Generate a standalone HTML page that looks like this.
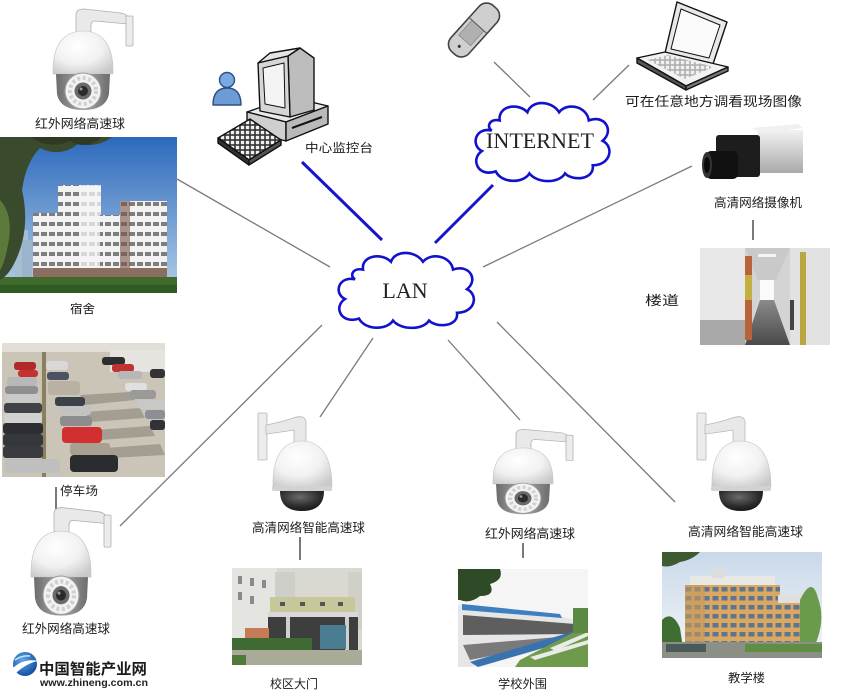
<!DOCTYPE html>
<html><head><meta charset="utf-8"><style>
html,body{margin:0;padding:0;background:#fff;}
svg{display:block;}
.cn{font-family:"Liberation Sans","Noto Sans CJK SC","WenQuanYi Zen Hei",sans-serif;fill:#1c1c1c;}
.sf{font-family:"Liberation Serif",serif;fill:#222;}
.lg{font-family:"Liberation Sans","Noto Sans CJK SC",sans-serif;}
</style></head><body>
<svg width="845" height="699" viewBox="0 0 845 699" xmlns="http://www.w3.org/2000/svg">
<defs>
  <radialGradient id="domeG" cx="0.42" cy="0.35" r="0.75">
    <stop offset="0" stop-color="#ffffff"/><stop offset="0.55" stop-color="#f1f1f1"/><stop offset="1" stop-color="#c9c9c9"/>
  </radialGradient>
  <linearGradient id="housG" x1="0" y1="0" x2="1" y2="0">
    <stop offset="0" stop-color="#6c6c6c"/><stop offset="0.5" stop-color="#a9a9a9"/><stop offset="1" stop-color="#6c6c6c"/>
  </linearGradient>
  <radialGradient id="bubG" cx="0.45" cy="0.3" r="0.8">
    <stop offset="0" stop-color="#6a6a6a"/><stop offset="0.6" stop-color="#2a2a2a"/><stop offset="1" stop-color="#111"/>
  </radialGradient>
  <linearGradient id="sky1" x1="0" y1="0" x2="0" y2="1">
    <stop offset="0" stop-color="#2c69bd"/><stop offset="1" stop-color="#b4cfe6"/>
  </linearGradient>
  <linearGradient id="sky2" x1="0" y1="0" x2="0" y2="1">
    <stop offset="0" stop-color="#c9d9ea"/><stop offset="1" stop-color="#f3f5f7"/>
  </linearGradient>
  <linearGradient id="silv" x1="0" y1="0" x2="0" y2="1">
    <stop offset="0" stop-color="#f2f2f2"/><stop offset="1" stop-color="#a9a9a9"/>
  </linearGradient>
  <linearGradient id="floorG" x1="0" y1="0" x2="0" y2="1">
    <stop offset="0" stop-color="#8a8a8a"/><stop offset="1" stop-color="#4a4a4a"/>
  </linearGradient>
  <radialGradient id="globeG" cx="0.4" cy="0.35" r="0.7">
    <stop offset="0" stop-color="#5fa8ea"/><stop offset="1" stop-color="#114a9a"/>
  </radialGradient>
  <pattern id="winP" width="8" height="10" patternUnits="userSpaceOnUse">
    <rect width="8" height="10" fill="#f2f2f2"/><rect x="1" y="2" width="6" height="4" fill="#7d7d7d"/>
  </pattern>
  <pattern id="winQ" width="9" height="9" patternUnits="userSpaceOnUse">
    <rect width="9" height="9" fill="#dba862"/><rect x="1.5" y="2" width="6" height="4.5" fill="#5d7590"/>
  </pattern>
  <pattern id="kbd" width="5" height="5" patternUnits="userSpaceOnUse">
    <rect width="5" height="5" fill="#333"/><rect x="0.8" y="0.8" width="3.4" height="3.4" fill="#f0f0f0"/>
  </pattern>

  <g id="ir">
    <path d="M-7,2 L-7,-15 Q-7,-21 1,-21 L38,-17 Q44,-16 45,-12 L45,-6 L12,-9 Q8,-9 8,-4 L8,2 Z" fill="#e9e9e9" stroke="#b0b0b0" stroke-width="0.8"/>
    <rect x="43" y="-14" width="7" height="30" rx="1" fill="#ececec" stroke="#b0b0b0" stroke-width="0.8"/>
    <path d="M-30,44 C-31,12 -17,1 0,1 C17,1 31,12 30,44 Z" fill="url(#domeG)" stroke="#c4c4c4" stroke-width="0.6"/>
    <path d="M-27,44 L27,44 L26,64 Q23,80 0,80 Q-23,80 -26,64 Z" fill="url(#housG)"/>
    <circle cx="0" cy="61" r="18" fill="#f2f2f2" stroke="#9a9a9a" stroke-width="1"/>
    <circle cx="0" cy="61" r="13" fill="none" stroke="#d0d0d0" stroke-width="4" stroke-dasharray="3 2.5"/>
    <circle cx="0" cy="61" r="8.5" fill="#6a6a6a"/>
    <circle cx="0" cy="61" r="5" fill="#2a2a2a"/>
    <circle cx="-2" cy="59" r="1.5" fill="#999"/>
  </g>
  <g id="hd">
    <rect x="-44" y="-27" width="9" height="47" rx="1" fill="#ececec" stroke="#b5b5b5" stroke-width="0.8"/>
    <path d="M-36,-6 L-36,-15 Q-20,-18 -9,-22 Q3,-26 4,-18 L4,2 L-8,2 L-8,-10 Q-20,-8 -36,-6 Z" fill="#e8e8e8" stroke="#b8b8b8" stroke-width="0.8"/>
    <path d="M-29,47 C-30,12 -16,1 0,1 C16,1 30,12 30,47 Z" fill="url(#domeG)" stroke="#c4c4c4" stroke-width="0.6"/>
    <rect x="-30" y="46" width="60" height="5" rx="2" fill="#d2d2d2"/>
    <path d="M-22,51 L22,51 Q22,71 0,71 Q-22,71 -22,51 Z" fill="url(#bubG)"/>
  </g>
  <path id="cloud" d="M22,30 C6,26 0,44 12,50 C0,58 8,76 26,70 C32,82 54,82 60,72 C68,82 90,82 96,72 C104,80 126,78 124,64 C142,64 146,46 134,40 C146,30 136,14 120,20 C118,6 98,2 90,12 C82,0 62,0 58,12 C48,2 28,6 30,20 C20,18 16,26 22,30 Z"/>
</defs>

<rect width="845" height="699" fill="#fff"/>

<!-- connector lines -->
<g stroke="#7a7a7a" stroke-width="1.3" fill="none">
  <line x1="177" y1="179" x2="330" y2="267"/>
  <line x1="494" y1="62" x2="530" y2="97"/>
  <line x1="593" y1="100" x2="629" y2="65"/>
  <line x1="483" y1="267" x2="692" y2="166"/>
  <line x1="322" y1="325" x2="120" y2="526"/>
  <line x1="373" y1="338" x2="320" y2="417"/>
  <line x1="448" y1="340" x2="520" y2="420"/>
  <line x1="497" y1="322" x2="675" y2="502"/>
</g>
<g stroke="#222" stroke-width="1.2">
  <line x1="753" y1="220" x2="753" y2="240"/>
  <line x1="56" y1="487" x2="56" y2="510"/>
  <line x1="300" y1="537" x2="300" y2="560"/>
  <line x1="523" y1="543" x2="523" y2="558"/>
</g>
<g stroke="#1515cc" stroke-width="3" fill="none">
  <line x1="302" y1="162" x2="382" y2="240"/>
  <line x1="493" y1="185" x2="435" y2="243"/>
</g>

<!-- clouds -->
<use href="#cloud" transform="translate(470,100) scale(0.99,1.02)" fill="#fff" stroke="#1212cc" stroke-width="2.6" vector-effect="non-scaling-stroke"/>
<use href="#cloud" transform="translate(333,250) scale(1,0.98)" fill="#fff" stroke="#1212cc" stroke-width="2.6" vector-effect="non-scaling-stroke"/>
<text class="sf" x="540" y="148" style="font-size:22px" text-anchor="middle" textLength="108" lengthAdjust="spacingAndGlyphs">INTERNET</text>
<text class="sf" x="405" y="298" style="font-size:22px" text-anchor="middle">LAN</text>

<!-- cameras -->
<use href="#ir" transform="translate(83,30)"/>
<use href="#ir" transform="translate(61,530) scale(1,1.07)"/>
<use href="#ir" transform="translate(523,447) scale(1,0.84)"/>
<use href="#hd" transform="translate(302,440)"/>
<use href="#hd" transform="translate(741,440)"/>

<!-- computer -->
<g stroke="#111" stroke-width="1.4" stroke-linejoin="round">
  <path d="M213,105 Q213,88 227,88 Q241,88 241,105 Z" fill="#6d9bd6" stroke="#2c4f80"/>
  <circle cx="227" cy="80" r="7.5" fill="#7aa8e0" stroke="#2c4f80"/>
  <polygon points="247,112 290,97 328,106 286,122" fill="#e9e9e9"/>
  <polygon points="247,112 286,122 286,141 247,131" fill="#cfcfcf"/>
  <polygon points="286,122 328,106 328,124 286,141" fill="#b9b9b9"/>
  <line x1="292" y1="128" x2="322" y2="117" stroke-width="2"/>
  <polygon points="288,56 300,48 314,58 314,110 290,117" fill="#bdbdbd"/>
  <polygon points="258,63 270,53 300,48 288,56" fill="#e4e4e4"/>
  <polygon points="258,63 288,56 290,117 260,111" fill="#d6d6d6"/>
  <polygon points="263,68 284,63 285,108 265,104" fill="#f4f4f4" stroke-width="1"/>
  <polygon points="218,138 250,119 281,140 249,160" fill="url(#kbd)"/>
  <polygon points="218,138 249,160 249,165 218,143" fill="#333"/>
  <polygon points="249,160 281,140 281,145 249,165" fill="#555"/>
</g>

<!-- phone -->
<g transform="translate(474,30) rotate(42)">
  <rect x="-12" y="-31" width="24" height="62" rx="10" fill="#cfcfcf" stroke="#444" stroke-width="1.6"/>
  <rect x="-8" y="-6" width="16" height="20" fill="#b0b0b0" stroke="#777" stroke-width="0.6"/>
  <line x1="-12" y1="-6" x2="12" y2="-6" stroke="#555" stroke-width="1"/>
  <circle cx="0" cy="22" r="1.5" fill="#333"/>
</g>

<!-- laptop -->
<g stroke="#111" stroke-width="1.4" stroke-linejoin="round">
  <polygon points="665,53 677,2 727,22 713,64" fill="#e8e8e8"/>
  <polygon points="671,49 681,9 720,25 709,58" fill="#fafafa" stroke-width="1"/>
  <polygon points="637,58 665,52 728,67 686,86" fill="#f2f2f2"/>
  <polygon points="648,60 668,55 714,67 685,79" fill="url(#kbd)" stroke="none" opacity="0.35"/>
  <polygon points="637,58 686,86 686,90 637,63" fill="#555"/>
  <polygon points="686,86 728,67 728,71 686,90" fill="#777"/>
</g>

<!-- box camera -->
<polygon points="752,128 798,124 803,128 760,133" fill="#f0f0f0"/>
<rect x="758" y="130" width="45" height="43" fill="url(#silv)"/>
<rect x="716" y="135" width="44" height="42" rx="3" fill="#1d1d1d"/>
<rect x="706" y="151" width="32" height="28" rx="5" fill="#111"/>
<ellipse cx="707" cy="165" rx="5" ry="13" fill="#333"/>
<ellipse cx="707" cy="165" rx="3" ry="8" fill="#0a0a0a"/>

<!-- dorm photo -->
<g>
  <rect x="0" y="137" width="177" height="156" fill="url(#sky1)"/>
  <rect x="14" y="230" width="14" height="48" fill="#a7bdd4"/>
  <rect x="22" y="240" width="10" height="38" fill="#9cb3cc"/>
  <rect x="33" y="213" width="26" height="67" fill="url(#winP)"/>
  <rect x="58" y="185" width="43" height="95" fill="url(#winP)"/>
  <rect x="80" y="185" width="21" height="95" fill="#f6f6f6" opacity="0.75"/>
  <rect x="100" y="215" width="20" height="65" fill="url(#winP)"/>
  <rect x="120" y="201" width="47" height="79" fill="url(#winP)"/>
  <rect x="120" y="201" width="10" height="79" fill="#7a5444" opacity="0.6"/>
  <rect x="33" y="268" width="134" height="12" fill="#8c6e60"/>
  <rect x="0" y="277" width="177" height="16" fill="#3f6c2d"/>
  <rect x="0" y="285" width="177" height="8" fill="#2f5a22"/>
  <path d="M0,137 L112,137 Q98,148 78,144 Q60,158 40,148 Q26,162 22,190 Q30,225 18,255 Q10,275 0,280 Z" fill="#3a4a2c"/>
  <path d="M0,200 Q14,215 8,245 Q4,265 0,270 Z" fill="#5b7a3a"/>
  <path d="M30,137 Q50,150 70,141 Q85,150 100,139 L100,137 Z" fill="#2e3a22"/>
</g>
<text class="cn" x="70" y="313" style="font-size:12px" textLength="25" lengthAdjust="spacingAndGlyphs">宿舍</text>

<!-- parking photo -->
<g>
  <rect x="2" y="343" width="163" height="134" fill="#cbc5b7"/>
  <rect x="2" y="343" width="163" height="9" fill="#e2dfd7"/>
  <rect x="110" y="350" width="55" height="22" fill="#e6e4de"/>
  <g fill="#a49e92">
    <path d="M80,395 L130,392 L135,400 L85,405 Z"/><path d="M85,412 L140,408 L145,418 L90,422 Z"/>
    <path d="M95,430 L150,426 L155,436 L100,440 Z"/><path d="M105,448 L160,444 L165,455 L110,458 Z"/>
  </g>
  <rect x="42" y="352" width="4" height="125" fill="#8a8060"/>
  <g>
    <rect x="14" y="362" width="22" height="8" rx="3" fill="#b02a2a"/>
    <rect x="18" y="370" width="20" height="7" rx="3" fill="#c43232"/>
    <rect x="7" y="377" width="30" height="9" rx="3" fill="#b8b8b8"/>
    <rect x="5" y="386" width="33" height="8" rx="3" fill="#8f8f8f"/>
    <rect x="4" y="394" width="36" height="9" rx="3" fill="#c9c9c9"/>
    <rect x="4" y="403" width="38" height="10" rx="3" fill="#3f4347"/>
    <rect x="4" y="413" width="38" height="10" rx="3" fill="#d2d2d2"/>
    <rect x="3" y="423" width="40" height="11" rx="3" fill="#2c2e32"/>
    <rect x="3" y="434" width="40" height="12" rx="3" fill="#34373b"/>
    <rect x="3" y="446" width="40" height="12" rx="3" fill="#393b3f"/>
    <rect x="5" y="459" width="55" height="14" rx="3" fill="#bfbfbf"/>
    <rect x="46" y="361" width="22" height="9" rx="3" fill="#d8d8d8"/>
    <rect x="47" y="372" width="22" height="8" rx="3" fill="#4c5262"/>
    <rect x="48" y="381" width="32" height="14" rx="3" fill="#b9b1a1"/>
    <rect x="55" y="397" width="30" height="9" rx="3" fill="#3b4149"/>
    <rect x="59" y="406" width="32" height="9" rx="3" fill="#c2c2c2"/>
    <rect x="60" y="416" width="32" height="10" rx="3" fill="#8d8d8d"/>
    <rect x="62" y="427" width="40" height="16" rx="4" fill="#d23030"/>
    <rect x="70" y="443" width="40" height="12" rx="3" fill="#a8a090"/>
    <rect x="70" y="455" width="48" height="17" rx="4" fill="#2a2c30"/>
    <rect x="102" y="357" width="23" height="8" rx="3" fill="#2c2e30"/>
    <rect x="112" y="364" width="22" height="8" rx="3" fill="#c13232"/>
    <rect x="118" y="371" width="24" height="8" rx="3" fill="#b7b7b7"/>
    <rect x="150" y="369" width="15" height="9" rx="3" fill="#333"/>
    <rect x="125" y="383" width="22" height="8" rx="3" fill="#e0e0e0"/>
    <rect x="130" y="390" width="26" height="9" rx="3" fill="#9a9a9a"/>
    <rect x="138" y="400" width="27" height="9" rx="3" fill="#c8c8c8"/>
    <rect x="145" y="410" width="20" height="9" rx="3" fill="#8c8f95"/>
    <rect x="150" y="420" width="15" height="10" rx="3" fill="#2f3237"/>
  </g>
</g>
<text class="cn" x="60" y="495" style="font-size:12px" textLength="38" lengthAdjust="spacingAndGlyphs">停车场</text>

<!-- corridor -->
<g>
  <rect x="700" y="248" width="130" height="97" fill="#d4d4d4"/>
  <polygon points="700,248 745,248 745,345 700,345" fill="#e8e8e8"/>
  <polygon points="790,248 830,248 830,345 790,345" fill="#e2e2e2"/>
  <polygon points="745,248 790,248 776,280 758,280" fill="#c9c9c9"/>
  <polygon points="745,345 790,345 774,300 760,300" fill="url(#floorG)"/>
  <polygon points="700,320 745,320 745,345 700,345" fill="#6a6a6a" opacity="0.5"/>
  <rect x="760" y="280" width="14" height="20" fill="#fafafa"/>
  <rect x="745" y="256" width="7" height="84" fill="#b8623e"/>
  <rect x="745" y="275" width="7" height="25" fill="#c4b040"/>
  <rect x="800" y="252" width="6" height="93" fill="#b8a640"/>
  <rect x="790" y="300" width="4" height="30" fill="#444"/>
  <rect x="758" y="254" width="18" height="3" fill="#f4f4f4"/>
</g>
<text class="cn" x="645" y="305" style="font-size:13px" textLength="34" lengthAdjust="spacingAndGlyphs">楼道</text>

<!-- gate -->
<g>
  <rect x="232" y="568" width="130" height="97" fill="#d9d9d2"/>
  <rect x="232" y="568" width="45" height="75" fill="#e4e4e0"/>
  <g fill="#8a8a8a"><rect x="238" y="576" width="4" height="8"/><rect x="238" y="592" width="4" height="8"/><rect x="250" y="578" width="4" height="8"/><rect x="250" y="596" width="4" height="8"/><rect x="262" y="580" width="4" height="8"/></g>
  <rect x="275" y="572" width="20" height="30" fill="#cfcfca"/>
  <rect x="348" y="572" width="14" height="58" fill="#d0d0c8"/>
  <rect x="270" y="597" width="85" height="15" fill="#c6c79a"/>
  <g fill="#555"><rect x="280" y="602" width="5" height="4"/><rect x="300" y="602" width="5" height="4"/><rect x="320" y="602" width="5" height="4"/><rect x="338" y="602" width="5" height="4"/></g>
  <rect x="268" y="612" width="90" height="38" fill="#3e3e3e"/>
  <rect x="268" y="612" width="90" height="5" fill="#d8d8d8"/>
  <rect x="286" y="617" width="4" height="33" fill="#d0d0d0"/>
  <rect x="345" y="617" width="4" height="33" fill="#cfcfcf"/>
  <rect x="320" y="625" width="26" height="24" fill="#4b7d92"/>
  <rect x="245" y="628" width="24" height="14" fill="#c67a55"/>
  <rect x="232" y="638" width="80" height="15" fill="#3f6a31"/>
  <rect x="232" y="650" width="130" height="15" fill="#a9aa98"/>
  <rect x="232" y="655" width="14" height="10" fill="#4f7a38"/>
</g>
<text class="cn" x="270" y="688" style="font-size:12px" textLength="48" lengthAdjust="spacingAndGlyphs">校区大门</text>

<!-- school periphery -->
<g>
  <rect x="458" y="569" width="130" height="98" fill="#f4f5f4"/>
  <polygon points="458,605 540,612 585,622 585,640 470,667 458,667" fill="#e6e6e6"/>
  <polygon points="462,604 560,614 562,618 462,610" fill="#3e7fc0"/>
  <polygon points="463,615 575,624 575,634 463,635" fill="#5e5e5e"/>
  <polygon points="463,645 570,636 570,640 470,660" fill="#7a7a7a"/>
  <polygon points="470,662 585,628 588,635 478,667" fill="#3a72b0"/>
  <polygon points="520,660 588,625 588,667 515,667" fill="#6f9a4c"/>
  <g fill="#e9ebe6"><polygon points="530,657 588,640 588,644 535,660"/><polygon points="550,648 588,632 588,636 555,651"/></g>
  <path d="M458,569 L500,569 Q504,580 490,584 Q496,596 480,596 Q470,604 460,600 L458,600 Z" fill="#2f4a26"/>
  <rect x="573" y="608" width="15" height="25" fill="#5a8a44"/>
</g>
<text class="cn" x="498" y="688" style="font-size:12px" textLength="49" lengthAdjust="spacingAndGlyphs">学校外围</text>

<!-- teaching building -->
<g>
  <rect x="662" y="552" width="160" height="106" fill="url(#sky2)"/>
  <path d="M662,552 L700,552 Q692,560 680,562 Q670,568 662,566 Z" fill="#3d5a30"/>
  <rect x="685" y="585" width="95" height="60" fill="url(#winQ)"/>
  <rect x="685" y="585" width="20" height="60" fill="#c59a5c" opacity="0.6"/>
  <rect x="690" y="576" width="85" height="9" fill="#e8e8e4"/>
  <rect x="712" y="568" width="12" height="10" fill="#dcdcdc"/>
  <rect x="778" y="603" width="22" height="42" fill="url(#winQ)"/>
  <rect x="778" y="595" width="24" height="8" fill="#e0e0dc"/>
  <path d="M800,600 Q812,575 818,598 Q826,620 815,645 L800,648 Z" fill="#6a9a4c"/>
  <path d="M662,620 Q672,610 680,628 L684,655 L662,655 Z" fill="#3f6e32"/>
  <rect x="662" y="642" width="160" height="16" fill="#8b8f86"/>
  <rect x="745" y="644" width="77" height="8" fill="#5f8d43"/>
  <rect x="666" y="644" width="40" height="8" fill="#4a5a5a"/>
</g>
<text class="cn" x="728" y="682" style="font-size:12px" textLength="37" lengthAdjust="spacingAndGlyphs">教学楼</text>

<!-- labels -->
<text class="cn" x="35" y="128" style="font-size:12.5px" textLength="90" lengthAdjust="spacingAndGlyphs">红外网络高速球</text>
<text class="cn" x="305" y="152" style="font-size:12px" textLength="68" lengthAdjust="spacingAndGlyphs">中心监控台</text>
<text class="cn" x="625" y="106" style="font-size:13px" textLength="177" lengthAdjust="spacingAndGlyphs">可在任意地方调看现场图像</text>
<text class="cn" x="714" y="207" style="font-size:12.5px" textLength="88" lengthAdjust="spacingAndGlyphs">高清网络摄像机</text>
<text class="cn" x="22" y="633" style="font-size:12.5px" textLength="88" lengthAdjust="spacingAndGlyphs">红外网络高速球</text>
<text class="cn" x="252" y="532" style="font-size:12.5px" textLength="113" lengthAdjust="spacingAndGlyphs">高清网络智能高速球</text>
<text class="cn" x="485" y="538" style="font-size:12.5px" textLength="90" lengthAdjust="spacingAndGlyphs">红外网络高速球</text>
<text class="cn" x="688" y="536" style="font-size:12.5px" textLength="115" lengthAdjust="spacingAndGlyphs">高清网络智能高速球</text>

<!-- logo -->
<circle cx="25" cy="664" r="12" fill="url(#globeG)"/>
<path d="M13,668 Q24,658 38,661 Q27,663 16,673 Z" fill="#fff"/>
<path d="M15,660 Q22,655 30,656" stroke="#cfe4fa" stroke-width="1.5" fill="none"/>
<text class="lg" x="39" y="674" style="font-size:15px;font-weight:bold;fill:#1a1a1a" textLength="108" lengthAdjust="spacingAndGlyphs">中国智能产业网</text>
<text class="lg" x="40" y="686" style="font-size:10.5px;font-weight:bold;fill:#222" textLength="108" lengthAdjust="spacingAndGlyphs">www.zhineng.com.cn</text>
</svg>
</body></html>
